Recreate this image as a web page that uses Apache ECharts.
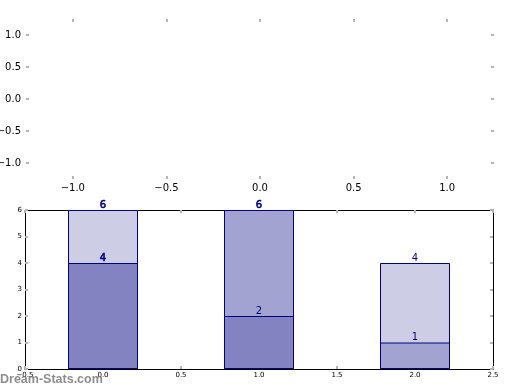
<!DOCTYPE html>
<html><head><meta charset="utf-8">
<script src="https://cdn.jsdelivr.net/npm/echarts@6/dist/echarts.min.js"></script>
<style>html,body{margin:0;padding:0;background:#fff}#c{width:520px;height:390px}</style>
</head><body><div id="c"></div>
<script>
// Top (empty) axes tick values
const topTicks = [-1.0, -0.5, 0.0, 0.5, 1.0];
// Bar chart data
const positions = [0, 1, 2];
const lowerValues = [4, 2, 1];
const totalValues = [6, 6, 4];
const lowerColors = ['#8383c2', '#8383c2', '#a3a3d1'];
const upperColors = ['#cdcde6', '#a3a3d1', '#cdcde6'];
const boldLower = [true, false, false];
const boldUpper = [true, true, false];

const fmt = v => v.toFixed(1).replace('-', '\u2212');
const tickGray = '#b4b4b4';
const font = 'DejaVu Sans';

function topAxis(pos, showLabel, grid, isX) {
  return {
    type: 'value', gridIndex: grid, position: pos,
    min: -1.25, max: 1.25,
    axisLine: {show: false, onZero: false},
    splitLine: {show: false},
    axisTick: {show: true, inside: true, length: 3, customValues: topTicks,
      lineStyle: {color: tickGray, width: 2}},
    axisLabel: {show: showLabel, customValues: topTicks, formatter: fmt,
      color: '#000', fontSize: 10, fontFamily: font, margin: isX ? 4 : 5}
  };
}
function botAxis(pos, showLabel, grid, isX) {
  const base = isX ? {min: -0.5, max: 2.5, interval: 0.5} : {min: 0, max: 6, interval: 1};
  return Object.assign({
    type: 'value', gridIndex: grid, position: pos,
    axisLine: {show: true, onZero: false, lineStyle: {color: '#000', width: 1}},
    splitLine: {show: false},
    axisTick: {show: true, inside: true, length: 3, lineStyle: {color: tickGray, width: 2}},
    axisLabel: {show: showLabel, color: '#000', fontSize: 7, fontFamily: font, margin: 3,
      formatter: isX ? (v => v.toFixed(1).replace('-', '\u2212')) : (v => String(v))}
  }, base);
}

function barSeries(values, colors, bold, z) {
  return {
    type: 'bar', xAxisIndex: 2, yAxisIndex: 2, barWidth: 70, barGap: '-100%',
    data: positions.map((p, i) => ({
      value: [p, values[i]],
      itemStyle: {color: colors[i]},
      label: bold[i] ? {textBorderColor: '#000080', textBorderWidth: 0.6} : {}
    })),
    itemStyle: {borderColor: '#000080', borderWidth: 1},
    label: {show: true, position: 'top', distance: 0, color: '#000080', fontSize: 10,
      fontFamily: font, formatter: p => String(p.value[1])},
    z: z
  };
}

const chart = echarts.init(document.getElementById('c'), null, {renderer: 'canvas'});
chart.setOption({
  animation: false,
  backgroundColor: '#fff',
  grid: [
    {left: 26, top: 19, width: 468, height: 160, outerBoundsMode: 'none', containLabel: false},
    {left: 25, top: 210, width: 468, height: 159, outerBoundsMode: 'none', containLabel: false}
  ],
  xAxis: [
    topAxis('bottom', true, 0, true),
    topAxis('top', false, 0, true),
    botAxis('bottom', true, 1, true),
    botAxis('top', false, 1, true)
  ],
  yAxis: [
    topAxis('left', true, 0, false),
    topAxis('right', false, 0, false),
    botAxis('left', true, 1, false),
    botAxis('right', false, 1, false)
  ],
  series: [
    {type: 'scatter', xAxisIndex: 0, yAxisIndex: 0, data: []},
    barSeries(totalValues, upperColors, boldUpper, 2),
    barSeries(lowerValues, lowerColors, boldLower, 3)
  ],
  graphic: [{
    type: 'text', left: 0, top: 373, z: 100,
    style: {text: 'Dream-Stats.com', fill: 'rgba(120,120,120,0.85)', font: 'bold 12.5px "Liberation Sans"'}
  }]
});
</script></body></html>
